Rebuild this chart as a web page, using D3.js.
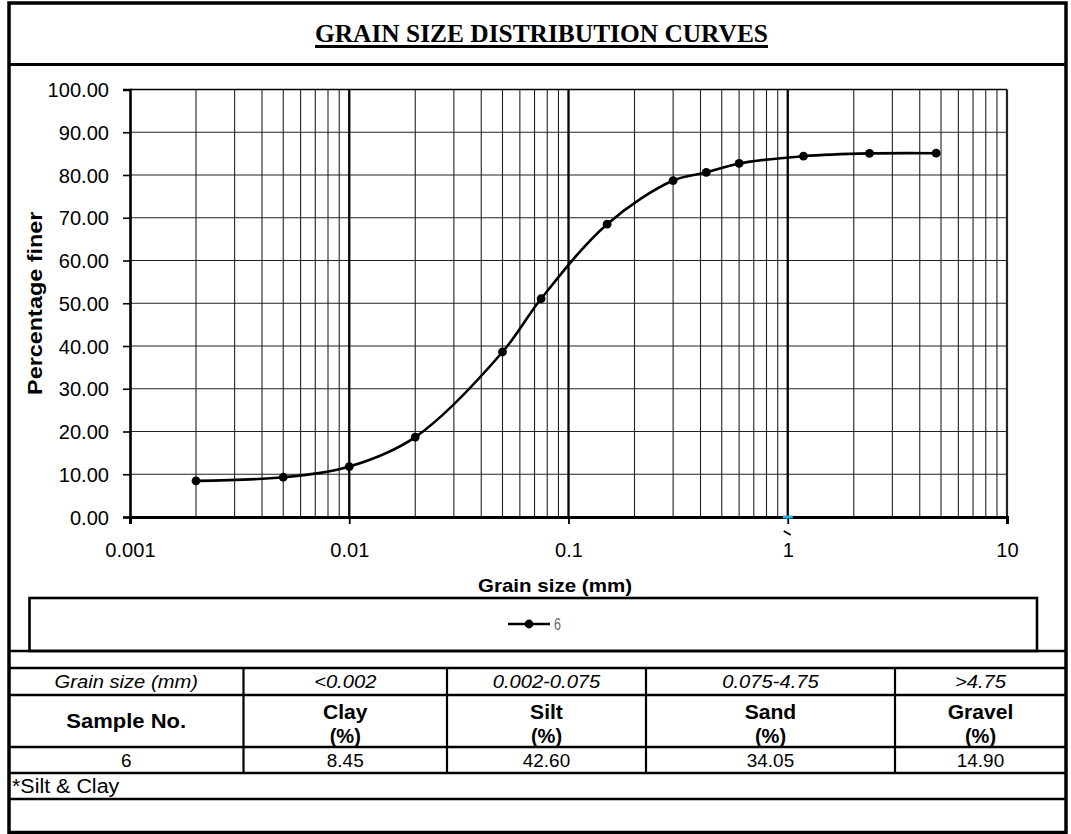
<!DOCTYPE html>
<html>
<head>
<meta charset="utf-8">
<script src="https://cdn.jsdelivr.net/npm/d3@7"></script>
<style>
  html, body { margin: 0; padding: 0; background: #fff; }
  svg { display: block; }
  text { font-family: Arial, "Liberation Sans", sans-serif; fill: #000; }
</style>
</head>
<body>
<svg id="sheet" width="1071" height="834"></svg>
<script>
// Sieve / hydrometer results for sample 6
const sizeMm = [4.75, 2.36, 1.18, 0.6, 0.425, 0.3, 0.15, 0.075, 0.05, 0.02, 0.01, 0.005, 0.002];
const percentFiner = [85.10, 85.05, 84.40, 82.70, 80.60, 78.70, 68.50, 51.05, 38.60, 18.70, 11.80, 9.30, 8.45];
const seriesName = "6";

// Axis ticks
const yTicks = [0, 10, 20, 30, 40, 50, 60, 70, 80, 90, 100];
const xMajorTicks = [0.001, 0.01, 0.1, 1, 10];
const xTickLabels = ["0.001", "0.01", "0.1", "1", "10"];

// Summary table
const sizeRanges = ["Grain size (mm)", "<0.002", "0.002-0.075", "0.075-4.75", ">4.75"];
const fractionNames = ["Clay", "Silt", "Sand", "Gravel"];
const sampleNo = "6";
const fractionPct = [8.45, 42.60, 34.05, 14.90];
const footNote = "*Silt & Clay";

const svg = d3.select("#sheet");

// widen Arial glyphs slightly, keeps the text as text
function widen(sel, k) {
  sel.each(function () {
    const w = this.getComputedTextLength();
    this.setAttribute("textLength", (w * k).toFixed(1));
    this.setAttribute("lengthAdjust", "spacingAndGlyphs");
  });
  return sel;
}

// ---------- frame ----------
const frameL = 9, frameR = 1066, frameT = 3, frameB = 832.5;
const titleBottom = 64.5;

svg.append("rect").attr("x", frameL).attr("y", frameT)
  .attr("width", frameR - frameL).attr("height", frameB - frameT)
  .attr("fill", "#fff").attr("stroke", "#000").attr("stroke-width", 3.5);
svg.append("line").attr("x1", frameL).attr("x2", frameR)
  .attr("y1", titleBottom).attr("y2", titleBottom)
  .attr("stroke", "#000").attr("stroke-width", 3);

// ---------- title ----------
svg.append("text")
  .attr("x", 541.5).attr("y", 42)
  .attr("text-anchor", "middle")
  .style("font-family", "'Liberation Serif', 'Times New Roman', serif")
  .style("font-weight", "bold").style("font-size", "25.5px")
  .attr("textLength", 453).attr("lengthAdjust", "spacingAndGlyphs")
  .text("GRAIN SIZE DISTRIBUTION CURVES");
svg.append("rect").attr("x", 315).attr("y", 45).attr("width", 453).attr("height", 3).attr("fill", "#000");

// ---------- plot ----------
const plot = { left: 130, right: 1007, top: 89.5, bottom: 517 };
const x = d3.scaleLog().domain([0.001, 10]).range([plot.left, plot.right]);
const y = d3.scaleLinear().domain([0, 100]).range([plot.bottom, plot.top]);

const g = svg.append("g");

// minor log grid
const minorX = [];
[0.001, 0.01, 0.1, 1].forEach(d => { for (let m = 2; m <= 9; m++) minorX.push(d * m); });
g.append("g").selectAll("line").data(minorX).join("line")
  .attr("x1", d => x(d)).attr("x2", d => x(d))
  .attr("y1", plot.top).attr("y2", plot.bottom)
  .attr("stroke", "#222").attr("stroke-width", 1.1);

// horizontal grid
g.append("g").selectAll("line").data(yTicks.slice(1, -1)).join("line")
  .attr("x1", plot.left).attr("x2", plot.right)
  .attr("y1", d => y(d)).attr("y2", d => y(d))
  .attr("stroke", "#222").attr("stroke-width", 1.2);

// decade lines
g.append("g").selectAll("line").data([0.01, 0.1, 1]).join("line")
  .attr("x1", d => x(d)).attr("x2", d => x(d))
  .attr("y1", plot.top).attr("y2", plot.bottom)
  .attr("stroke", "#000").attr("stroke-width", 2.3);

// plot border
g.append("line").attr("x1", plot.left).attr("x2", plot.right).attr("y1", plot.top).attr("y2", plot.top)
  .attr("stroke", "#000").attr("stroke-width", 1.6);
g.append("line").attr("x1", plot.right).attr("x2", plot.right).attr("y1", plot.top).attr("y2", plot.bottom)
  .attr("stroke", "#222").attr("stroke-width", 2.2);

// y axis
const yAxis = g.append("g").attr("transform", `translate(${plot.left},0)`)
  .call(d3.axisLeft(y).tickValues(yTicks).tickFormat(d3.format(".2f")).tickSize(7).tickPadding(14));
yAxis.select(".domain").attr("stroke", "#000").attr("stroke-width", 2.6);
yAxis.selectAll(".tick line").attr("stroke", "#000").attr("stroke-width", 1.6);
yAxis.selectAll(".tick text").style("font-size", "19.5px").attr("fill", "#000")
  .attr("font-family", null).attr("dy", "0.36em");
widen(yAxis.selectAll(".tick text"), 1.03);

// x axis
const xAxis = g.append("g").attr("transform", `translate(0,${plot.bottom})`)
  .call(d3.axisBottom(x).tickValues(xMajorTicks)
    .tickFormat((d, i) => xTickLabels[i]).tickSize(7).tickPadding(19));
xAxis.select(".domain").attr("stroke", "#000").attr("stroke-width", 3);
xAxis.selectAll(".tick line").attr("stroke", "#000").attr("stroke-width", 1.8);
xAxis.selectAll(".tick text").style("font-size", "19.5px").attr("fill", "#000").attr("font-family", null);
widen(xAxis.selectAll(".tick text"), 1.03);

// small cyan selection marker and stray stroke at 1 mm
g.append("rect").attr("x", x(1) - 5).attr("y", plot.bottom - 1.5).attr("width", 10).attr("height", 3)
  .attr("fill", "#2ab6e6");
g.append("line").attr("x1", x(1) - 4).attr("y1", plot.bottom + 14).attr("x2", x(1) + 3).attr("y2", plot.bottom + 18)
  .attr("stroke", "#000").attr("stroke-width", 2);

// axis titles
const yTitle = svg.append("text")
  .attr("transform", `translate(42,${(plot.top + plot.bottom) / 2}) rotate(-90)`)
  .attr("text-anchor", "middle")
  .style("font-weight", "bold").style("font-size", "20px")
  .text("Percentage finer");
widen(yTitle, 1.17);

const xTitle = svg.append("text")
  .attr("x", 555).attr("y", 592)
  .attr("text-anchor", "middle")
  .style("font-weight", "bold").style("font-size", "19px")
  .text("Grain size (mm)");
widen(xTitle, 1.08);

// curve
const pts = sizeMm.map((s, i) => [s, percentFiner[i]]);
const line = d3.line().x(d => x(d[0])).y(d => y(d[1])).curve(d3.curveCatmullRom.alpha(0.5));
g.append("path").datum(pts).attr("d", line)
  .attr("fill", "none").attr("stroke", "#000").attr("stroke-width", 2.6);
g.append("g").selectAll("circle").data(pts).join("circle")
  .attr("cx", d => x(d[0])).attr("cy", d => y(d[1])).attr("r", 4.4).attr("fill", "#000");

// ---------- legend ----------
const legend = { left: 29.5, right: 1037, top: 598, bottom: 651 };
svg.append("rect").attr("x", legend.left).attr("y", legend.top)
  .attr("width", legend.right - legend.left).attr("height", legend.bottom - legend.top)
  .attr("fill", "none").attr("stroke", "#000").attr("stroke-width", 2.6);
svg.append("line").attr("x1", frameL).attr("x2", frameR).attr("y1", legend.bottom).attr("y2", legend.bottom)
  .attr("stroke", "#000").attr("stroke-width", 2.6);
const lgY = 624;
svg.append("line").attr("x1", 508).attr("x2", 550).attr("y1", lgY).attr("y2", lgY)
  .attr("stroke", "#000").attr("stroke-width", 2.6);
svg.append("circle").attr("cx", 529).attr("cy", lgY).attr("r", 4.4).attr("fill", "#000");
svg.append("text").attr("x", 554).attr("y", lgY + 6)
  .style("font-size", "16px").style("fill", "#666")
  .attr("textLength", 7).attr("lengthAdjust", "spacingAndGlyphs")
  .text(seriesName);

// ---------- table ----------
const colX = [frameL, 243.5, 447, 646, 895, frameR];
const rowY = [668, 695, 747, 773, 799, frameB];

const tbl = svg.append("g");
// horizontal rules
tbl.selectAll("line.h").data(rowY.slice(0, -1)).join("line").attr("class", "h")
  .attr("x1", frameL).attr("x2", frameR).attr("y1", d => d).attr("y2", d => d)
  .attr("stroke", "#000").attr("stroke-width", 2.6);
// column rules over the first three rows
tbl.selectAll("line.v").data(colX.slice(1, -1)).join("line").attr("class", "v")
  .attr("x1", d => d).attr("x2", d => d).attr("y1", rowY[0]).attr("y2", rowY[3])
  .attr("stroke", "#000").attr("stroke-width", 2.2);

const colMid = i => (colX[i] + colX[i + 1]) / 2;

// size range row
widen(tbl.selectAll("text.range").data(sizeRanges).join("text").attr("class", "range")
  .attr("x", (d, i) => colMid(i)).attr("y", 688)
  .attr("text-anchor", "middle")
  .style("font-style", "italic").style("font-size", "18px")
  .text(d => d), 1.12);

// header row
widen(tbl.append("text").attr("x", colMid(0)).attr("y", 728)
  .attr("text-anchor", "middle").style("font-weight", "bold").style("font-size", "20px")
  .text("Sample No."), 1.1);
widen(tbl.selectAll("text.name").data(fractionNames).join("text").attr("class", "name")
  .attr("x", (d, i) => colMid(i + 1)).attr("y", 719)
  .attr("text-anchor", "middle").style("font-weight", "bold").style("font-size", "19.5px")
  .text(d => d), 1.08);
widen(tbl.selectAll("text.pct").data(fractionNames).join("text").attr("class", "pct")
  .attr("x", (d, i) => colMid(i + 1)).attr("y", 743)
  .attr("text-anchor", "middle").style("font-weight", "bold").style("font-size", "19.5px")
  .text("(%)"), 1.03);

// values row
widen(tbl.selectAll("text.val").data([sampleNo].concat(fractionPct.map(d3.format(".2f")))).join("text")
  .attr("class", "val")
  .attr("x", (d, i) => colMid(i)).attr("y", 767)
  .attr("text-anchor", "middle").style("font-size", "17.5px")
  .text(d => d), 1.08);

// footnote row
widen(tbl.append("text").attr("x", 12).attr("y", 793)
  .style("font-size", "19.5px").text(footNote), 1.1);
</script>
</body>
</html>
